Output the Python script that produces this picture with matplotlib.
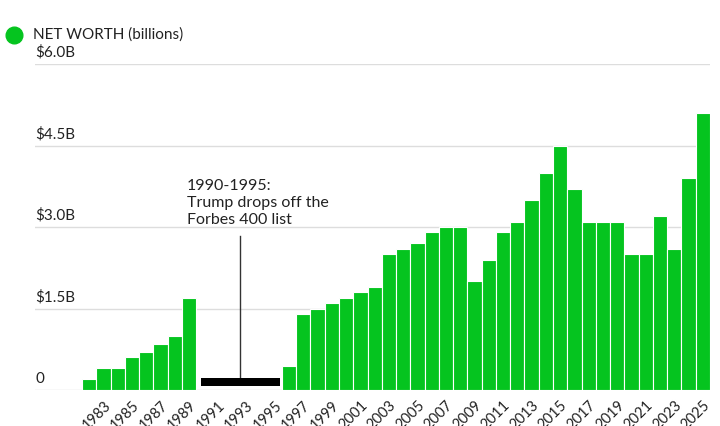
import numpy as np
import matplotlib.pyplot as plt
from matplotlib.lines import Line2D

plt.rcParams['font.family'] = ['Lato', 'DejaVu Sans']

# DATOS
years = list(range(1982, 1990)) + list(range(1996, 2026))
net_worth = [0.2, 0.4, 0.4, 0.6, 0.7, 0.85, 1.0, 1.7,
             0.45, 1.4, 1.5, 1.6, 1.7, 1.8, 1.9, 2.5, 2.6, 2.7, 2.9, 3.0,
             3.0, 2.0, 2.4, 2.9, 3.1, 3.5, 4.0, 4.5, 3.7, 3.1, 3.1, 3.1,
             2.5, 2.5, 3.2, 2.6, 3.9, 5.1]
off_list = (1990, 1995)
yticks = [0, 1.5, 3.0, 4.5, 6.0]
ytick_labels = ["0", "$1.5B", "$3.0B", "$4.5B", "$6.0B"]
xtick_years = list(range(1983, 2026, 2))

green = '#05C41F'

fig = plt.figure(figsize=(7.2, 4.26), dpi=100)
ax = fig.add_axes([35/720, 36/426, 675/720, 326/426])

ax.bar(years, net_worth, width=1.0, color=green, edgecolor='white',
       linewidth=0.8, zorder=3)

# Barra negra 1990-1995
ax.broken_barh([(off_list[0] - 0.2, off_list[1] - off_list[0] + 0.55)],
               (0.07, 0.15), facecolors='black', zorder=3)

# Anotación
ax.plot([1992.6, 1992.6], [0.2, 2.83], color='#333333', linewidth=1, zorder=2)
ax.text(1988.85, 3.88, "1990-1995:\nTrump drops off the\nForbes 400 list",
        fontsize=11.5, color='#222222', va='top', ha='left',
        linespacing=1.25, zorder=4)

ax.set_xlim(1978.2, 2025.5)
ax.set_ylim(0, 6.0)

# Líneas de grilla y etiquetas del eje y
for yv, lab in zip(yticks, ytick_labels):
    ax.axhline(yv, color='#dddddd', linewidth=1, zorder=1)
    ax.text(0.0, yv + 0.08, lab, transform=ax.get_yaxis_transform(),
            fontsize=11, color='#222222', ha='left', va='bottom')

ax.set_yticks([])
ax.set_xticks(xtick_years)
ax.set_xticklabels([str(y) for y in xtick_years], rotation=45, ha='right',
                   rotation_mode='anchor', fontsize=10.5, color='#222222')
ax.tick_params(axis='x', length=0, pad=6)
for s in ax.spines.values():
    s.set_visible(False)

# Leyenda
fig.add_artist(Line2D([14/720], [1 - 35/426], marker='o', markersize=12,
                      color=green, linestyle='none',
                      transform=fig.transFigure))
fig.text(33/720, 1 - 35/426, "NET WORTH (billions)", fontsize=11,
         color='#222222', va='center', ha='left')

fig.savefig('out.png', dpi=100)
